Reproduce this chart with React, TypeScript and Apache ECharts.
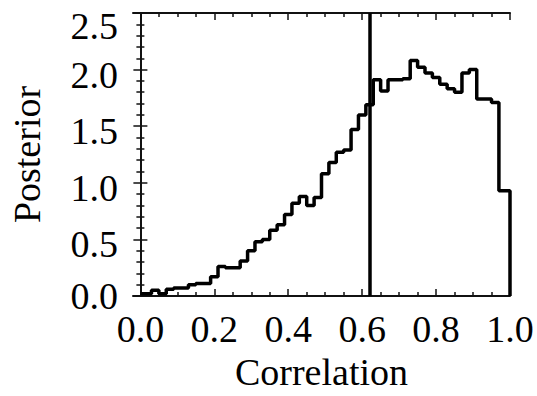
import React, { useEffect, useRef } from "react";
import * as echarts from "echarts";

const correlation = [
  0.0, 0.02, 0.04, 0.06, 0.08, 0.1, 0.12, 0.14, 0.16, 0.18,
  0.2, 0.22, 0.24, 0.26, 0.28, 0.3, 0.32, 0.34, 0.36, 0.38,
  0.4, 0.42, 0.44, 0.46, 0.48, 0.5, 0.52, 0.54, 0.56, 0.58,
  0.6, 0.62, 0.64, 0.66, 0.68, 0.7, 0.72, 0.74, 0.76, 0.78,
  0.8, 0.82, 0.84, 0.86, 0.88, 0.9, 0.92, 0.94, 0.96, 0.98,
  1.0,
];
const posterior = [
  0.02, 0.02, 0.05, 0.02, 0.06, 0.07, 0.07, 0.1, 0.11, 0.11,
  0.17, 0.26, 0.25, 0.25, 0.31, 0.4, 0.48, 0.5, 0.58, 0.63,
  0.72, 0.82, 0.88, 0.8, 0.87, 1.08, 1.18, 1.27, 1.29, 1.47,
  1.6, 1.69, 1.91, 1.81, 1.91, 1.91, 1.92, 2.08, 2.02, 1.97,
  1.93, 1.87, 1.83, 1.8, 1.97, 2.0, 1.74, 1.74, 1.71, 0.93,
  0.93,
];
const markerValue = 0.619;
const xMajorTicks = [0.0, 0.2, 0.4, 0.6, 0.8, 1.0];
const xMinorTicks = [
  0.05, 0.1, 0.15, 0.25, 0.3, 0.35, 0.45, 0.5, 0.55, 0.65, 0.7, 0.75, 0.85, 0.9, 0.95,
];
const xRange = [-0.02, 1.0];
const yRange = [0, 2.5];

const FONT = "Liberation Serif";
const FS = 38;

export default function App() {
  const ref = useRef<HTMLDivElement>(null);
  useEffect(() => {
    if (!ref.current) return;
    const chart = echarts.init(ref.current, null, { renderer: "svg" });
    const data: number[][] = correlation.map((c, i) => [c, posterior[i]]);
    data.push([xRange[1], 0]);

    const baseX = (position: "top" | "bottom", ticks: number[], len: number, showLine: boolean) => ({
      type: "value" as const,
      position,
      min: xRange[0],
      max: xRange[1],
      splitLine: { show: false },
      axisLine: { show: showLine, onZero: false, lineStyle: { color: "#111", width: 2 } },
      axisTick: {
        show: true,
        inside: true,
        length: len,
        customValues: ticks,
        lineStyle: { color: "#111", width: 1.5 },
      },
      axisLabel: { show: false },
    });

    chart.setOption({
      animation: false,
      backgroundColor: "#fff",
      grid: { left: 133, right: 27, top: 13, bottom: 98 },
      xAxis: [
        {
          ...baseX("bottom", xMajorTicks, 7, true),
          name: "Correlation",
          nameLocation: "middle",
          nameGap: 57,
          nameTextStyle: { fontFamily: FONT, fontSize: FS, color: "#000" },
          axisLabel: {
            show: true,
            customValues: xMajorTicks,
            formatter: (v: number) => v.toFixed(1),
            fontFamily: FONT,
            fontSize: FS,
            color: "#000",
            margin: 14,
          },
        },
        baseX("top", xMajorTicks, 7, true),
        baseX("bottom", xMinorTicks, 4, false),
        baseX("top", xMinorTicks, 4, false),
      ],
      yAxis: [
        {
          type: "value",
          position: "left",
          min: yRange[0],
          max: yRange[1],
          interval: 0.5,
          name: "Posterior",
          nameLocation: "middle",
          nameGap: 87,
          nameTextStyle: { fontFamily: FONT, fontSize: FS, color: "#000" },
          splitLine: { show: false },
          axisLine: { show: true, lineStyle: { color: "#111", width: 2 } },
          axisTick: { show: true, inside: true, length: 7, lineStyle: { color: "#111", width: 1.5 } },
          minorTick: { show: true, splitNumber: 5, length: 4, lineStyle: { color: "#111", width: 1.5 } },
          axisLabel: {
            show: true,
            margin: 15,
            showMinLabel: true,
            showMaxLabel: true,
            formatter: (v: number) => {
              const s = v.toFixed(1);
              if (v === yRange[0]) return `{lo|${s}}`;
              if (v === yRange[1]) return `{hi|${s}}`;
              return `{n|${s}}`;
            },
            rich: {
              n: { fontFamily: FONT, fontSize: FS, color: "#000", padding: [10, 0, 0, 0] },
              hi: { fontFamily: FONT, fontSize: FS, color: "#000", padding: [26, 0, 0, 0] },
              lo: { fontFamily: FONT, fontSize: FS, color: "#000", padding: [0, 0, 0, 0] },
            },
          },
        },
        {
          type: "value",
          position: "right",
          min: yRange[0],
          max: yRange[1],
          interval: 0.5,
          splitLine: { show: false },
          axisLine: { show: true, lineStyle: { color: "#111", width: 2 } },
          axisTick: { show: true, inside: true, length: 7, lineStyle: { color: "#111", width: 1.5 } },
          minorTick: { show: true, splitNumber: 5, length: 4, lineStyle: { color: "#111", width: 1.5 } },
          axisLabel: { show: false },
        },
      ],
      series: [
        {
          type: "line",
          step: "middle",
          data,
          xAxisIndex: 0,
          yAxisIndex: 0,
          showSymbol: false,
          symbol: "none",
          clip: true,
          lineStyle: { color: "#000", width: 3.5 },
          markLine: {
            silent: true,
            symbol: "none",
            label: { show: false },
            lineStyle: { color: "#000", width: 3.5, type: "solid" },
            data: [{ xAxis: markerValue }],
          },
        },
      ],
    });
    return () => chart.dispose();
  }, []);
  return (
    <div
      ref={ref}
      style={{ position: "fixed", left: 0, top: 0, width: 537, height: 396, background: "#fff" }}
    />
  );
}
